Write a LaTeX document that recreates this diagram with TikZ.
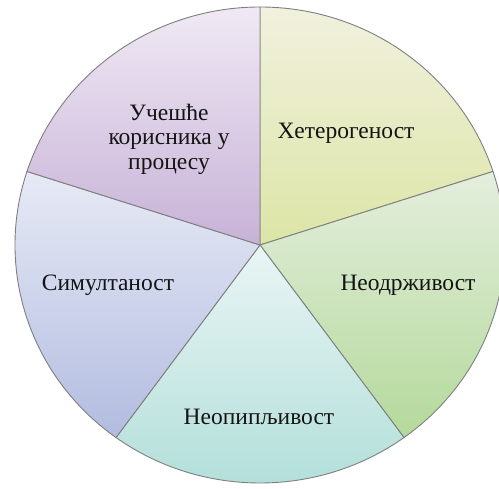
\documentclass[tikz,border=0pt]{standalone}
\usepackage{fontspec}
\setmainfont{Liberation Serif}
\definecolor{yelT}{HTML}{F1F1DE}
\definecolor{yelB}{HTML}{DCE5A6}
\definecolor{grnT}{HTML}{E4EEDD}
\definecolor{grnB}{HTML}{B4D99B}
\definecolor{teaT}{HTML}{E9F5F5}
\definecolor{teaB}{HTML}{B0DED8}
\definecolor{bluT}{HTML}{E7EAF5}
\definecolor{bluB}{HTML}{B2BCE0}
\definecolor{purT}{HTML}{F0E9F4}
\definecolor{purB}{HTML}{C7B2D7}
\definecolor{edge}{HTML}{7F7F7F}
\begin{document}
\begin{tikzpicture}[x=1pt,y=1pt,
  wedge/.style={draw=edge, line width=0.9pt, line join=round},
  lbl/.style={font=\fontsize{23.5}{24.5}\selectfont, text=black!92, align=center, inner sep=0pt}]
\useasboundingbox (0,0) rectangle (499,489);
\coordinate (c) at (260,244);
% one wedge of the elliptic pie: start angle, end angle, top colour, bottom colour
\newcommand\piewedge[4]{%
  \shadedraw[wedge, top color=#3, bottom color=#4]
    (c) -- ++(#1:245 and 238)
    arc[start angle=#1, end angle=#2, x radius=245, y radius=238] -- cycle;}
\piewedge{18}{90}{yelT}{yelB}
\piewedge{-54}{18}{grnT}{grnB}
\piewedge{-126}{-54}{teaT}{teaB}
\piewedge{162}{234}{bluT}{bluB}
\piewedge{90}{162}{purT}{purB}
\node[lbl] (het) at (346,356) {Хетерогеност};
\node[lbl] (neo) at (408,204) {Неодрживост};
\node[lbl] (nop) at (259,72) {Неопипљивост};
\node[lbl] (sim) at (108,204) {Симултаност};
\node[lbl] (uce) at (169,350) {Учешће\\корисника у\\процесу};
\end{tikzpicture}
\end{document}
